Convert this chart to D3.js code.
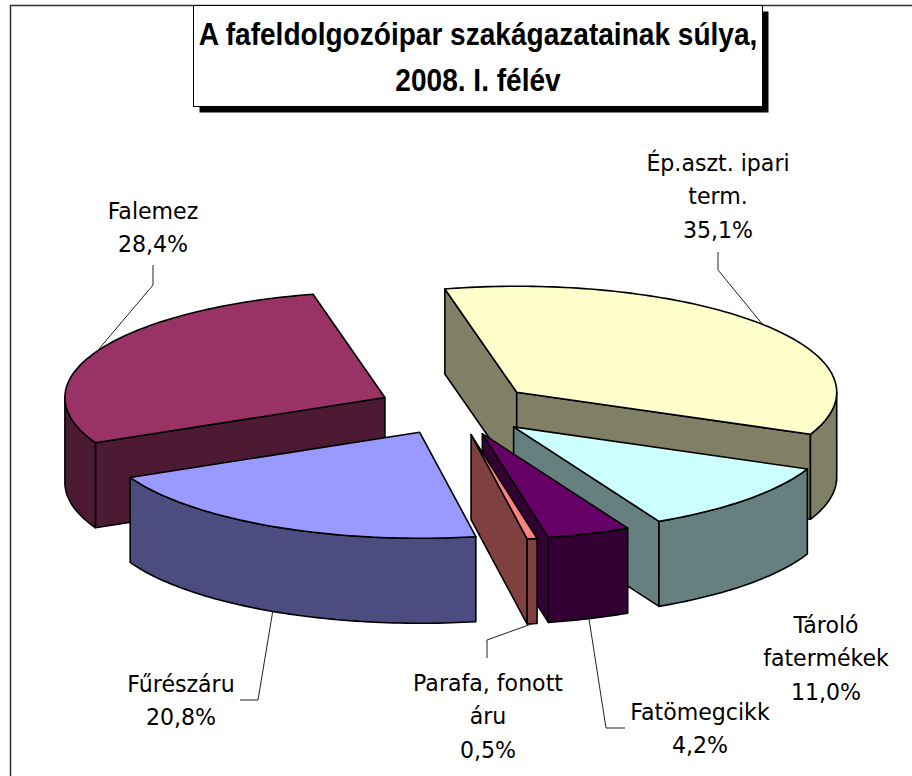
<!DOCTYPE html>
<html>
<head>
<meta charset="utf-8">
<script src="https://cdn.jsdelivr.net/npm/d3@7"></script>
<style>
  body { margin: 0; background: #fff; }
  svg { display: block; }
</style>
</head>
<body>
<svg id="chart"></svg>
<script>
// data, Excel point order
var categories = ["Fűrészáru", "Falemez", "Ép.aszt. ipari term.", "Tároló fatermékek", "Fatömegcikk", "Parafa, fonott áru"];
var values = [20.8, 28.4, 35.1, 11.0, 4.2, 0.5];
var labelLines = [
  ["Fűrészáru", "20,8%"],
  ["Falemez", "28,4%"],
  ["Ép.aszt. ipari", "term.", "35,1%"],
  ["Tároló", "fatermékek", "11,0%"],
  ["Fatömegcikk", "4,2%"],
  ["Parafa, fonott", "áru", "0,5%"]
];
var topColors = ["#9999FF", "#993366", "#FFFFCC", "#CCFFFF", "#660066", "#FF8080"];
var sideColors = ["#4C4C80", "#4D1A33", "#808066", "#668080", "#330033", "#804040"];
var titleLines = ["A fafeldolgozóipar szakágazatainak súlya,", "2008. I. félév"];

var width = 912, height = 776;
var svg = d3.select("#chart").attr("width", width).attr("height", height);

// pie geometry
var cx = 456, cy = 409, rx = 320, ry = 106, depth = 85, explode = 0.247;
var startDeg = 169.9;

// label layout: centre x, first baseline, leader knee points
var labelLayout = [
  {x: 181, y: 692, leader: [[240, 700], [258, 700]]},
  {x: 153, y: 219, leader: [[153, 265], [153, 285]]},
  {x: 718, y: 171, leader: [[718, 252], [718, 270]]},
  {x: 826, y: 633, leader: null},
  {x: 700, y: 720, leader: [[625, 728], [606, 728]]},
  {x: 488, y: 691, leader: [[487, 658], [487, 640]]}
];
var lineStep = 33.5;

// outer frame
svg.append("rect")
  .attr("x", 10.5).attr("y", 5.5)
  .attr("width", 940).attr("height", 820)
  .attr("fill", "none").attr("stroke", "#333").attr("stroke-width", 1.5);

var pie = d3.pie().sort(null)
  .startAngle(startDeg * Math.PI / 180)
  .endAngle(startDeg * Math.PI / 180 + 2 * Math.PI);

var arcs = pie(values).map(function(d, i) {
  var mid = (d.startAngle + d.endAngle) / 2;
  d.i = i;
  d.mid = mid;
  d.ax = cx + explode * rx * Math.sin(mid);
  d.ay = cy - explode * ry * Math.cos(mid);
  return d;
});

function pt(d, a, dz) {
  return [d.ax + rx * Math.sin(a), d.ay - ry * Math.cos(a) + (dz || 0)];
}

function arcPts(d, a0, a1, dz) {
  var n = Math.max(2, Math.ceil((a1 - a0) / 0.02));
  return d3.range(n + 1).map(function(k) { return pt(d, a0 + (a1 - a0) * k / n, dz); });
}

var line = d3.line();

// back to front
var order = arcs.slice().sort(function(a, b) { return -Math.cos(a.mid) - -Math.cos(b.mid); });

var pieG = svg.append("g");

order.forEach(function(d) {
  var g = pieG.append("g");
  var side = sideColors[d.i], top = topColors[d.i];
  var apex = [d.ax, d.ay], apexB = [d.ax, d.ay + depth];

  // radial faces
  if (Math.sin(d.startAngle) < 0) {
    var p = pt(d, d.startAngle), q = pt(d, d.startAngle, depth);
    g.append("path").attr("d", line([apex, p, q, apexB]) + "Z");
  }
  if (Math.sin(d.endAngle) > 0) {
    var p2 = pt(d, d.endAngle), q2 = pt(d, d.endAngle, depth);
    g.append("path").attr("d", line([apex, p2, q2, apexB]) + "Z");
  }

  // outer wall, front half only
  for (var k = -1; k <= 2; k++) {
    var lo = Math.max(d.startAngle, Math.PI / 2 + 2 * Math.PI * k);
    var hi = Math.min(d.endAngle, 3 * Math.PI / 2 + 2 * Math.PI * k);
    if (hi > lo) {
      var pts = arcPts(d, lo, hi, 0).concat(arcPts(d, lo, hi, depth).reverse());
      g.append("path").attr("d", line(pts) + "Z");
    }
  }
  g.selectAll("path").attr("fill", side);

  // top face
  g.append("path")
    .attr("d", line([apex].concat(arcPts(d, d.startAngle, d.endAngle, 0))) + "Z")
    .attr("fill", top);

  g.selectAll("path")
    .attr("stroke", "#000").attr("stroke-width", 1.6).attr("stroke-linejoin", "round");
});

// labels and leader lines
var labelG = svg.append("g");
arcs.forEach(function(d) {
  var L = labelLayout[d.i];
  if (L.leader) {
    var c = Math.cos(d.mid);
    var end = pt(d, d.mid, c < 0 ? depth : 0);
    labelG.append("path")
      .attr("d", line(L.leader.concat([end])))
      .attr("fill", "none").attr("stroke", "#222").attr("stroke-width", 1);
  }
  var t = labelG.append("text")
    .attr("transform", "translate(" + L.x + ",0) scale(0.94,1)")
    .attr("text-anchor", "middle")
    .attr("font-family", "'DejaVu Sans', Verdana, sans-serif")
    .attr("font-size", 23.5)
    .attr("fill", "#000");
  labelLines[d.i].forEach(function(s, j) {
    t.append("tspan").attr("x", 0).attr("y", L.y + j * lineStep).text(s);
  });
});

// title box with shadow
svg.append("rect").attr("x", 199.5).attr("y", 11.5).attr("width", 569).attr("height", 101).attr("fill", "#000");
svg.append("rect").attr("x", 193.5).attr("y", 5.5).attr("width", 569).attr("height", 101)
  .attr("fill", "#fff").attr("stroke", "#000").attr("stroke-width", 1);

var titleX = 478;
titleLines.forEach(function(s, j) {
  svg.append("text")
    .attr("transform", "translate(" + titleX + "," + (45 + j * 46) + ") scale(0.92,1)")
    .attr("text-anchor", "middle")
    .attr("font-family", "'Liberation Sans', Arial, sans-serif")
    .attr("font-weight", "bold")
    .attr("font-size", 30.5)
    .text(s);
});
</script>
</body>
</html>
